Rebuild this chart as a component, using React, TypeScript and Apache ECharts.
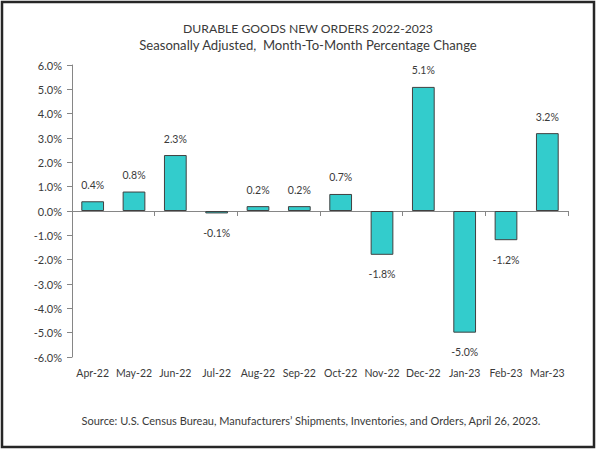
import React, { useEffect, useRef } from "react";
import * as echarts from "echarts";

const categories = ["Apr-22", "May-22", "Jun-22", "Jul-22", "Aug-22", "Sep-22", "Oct-22", "Nov-22", "Dec-22", "Jan-23", "Feb-23", "Mar-23"];
const changes = [0.4, 0.8, 2.3, -0.1, 0.2, 0.2, 0.7, -1.8, 5.1, -5.0, -1.2, 3.2];
const titleText = "DURABLE GOODS NEW ORDERS 2022-2023";
const subtitleText = "Seasonally Adjusted,  Month-To-Month Percentage Change";
const sourceText = "Source: U.S. Census Bureau, Manufacturers\u2019 Shipments, Inventories, and Orders, April 26, 2023.";

const FONT = "Lato, 'Liberation Sans', sans-serif";
const TXT = "#3a3a3a";

export default function App() {
  const ref = useRef<HTMLDivElement>(null);
  useEffect(() => {
    if (!ref.current) return;
    const chart = echarts.init(ref.current, undefined, { renderer: "svg" });
    const data = changes.map((v) => ({
      value: v,
      label: {
        position: v >= 0 ? "top" : "bottom",
        distance: v >= 0 ? 11 : 14,
      },
    }));
    chart.setOption({
      animation: false,
      backgroundColor: "#ffffff",
      textStyle: { fontFamily: FONT },
      grid: { left: 72, right: 32, top: 65, bottom: 94, containLabel: false },
      graphic: [
        {
          type: "rect",
          shape: { x: 2, y: 2, width: 592, height: 445 },
          style: { fill: "none", stroke: "#262626", lineWidth: 2.5 },
          silent: true,
        },
        {
          type: "text",
          x: 308,
          y: 28,
          style: { text: titleText, fill: TXT, font: `12.2px ${FONT}`, textAlign: "center", textVerticalAlign: "middle" },
        },
        {
          type: "text",
          x: 308,
          y: 45,
          style: { text: subtitleText, fill: TXT, font: `13.1px ${FONT}`, textAlign: "center", textVerticalAlign: "middle" },
        },
        {
          type: "text",
          x: 311,
          y: 420,
          style: { text: sourceText, fill: TXT, font: `11px ${FONT}`, textAlign: "center", textVerticalAlign: "middle" },
        },
      ],
      xAxis: [
        {
          type: "category",
          data: categories,
          axisLine: { show: true, onZero: true, lineStyle: { color: "#868686", width: 1 } },
          axisTick: { show: true, length: 5, alignWithLabel: false, lineStyle: { color: "#868686" } },
          axisLabel: { show: false },
          splitLine: { show: false },
        },
        {
          type: "category",
          data: categories,
          position: "bottom",
          axisLine: { show: false, onZero: false },
          axisTick: { show: false },
          axisLabel: { show: true, color: TXT, fontSize: 10.5, fontFamily: FONT, margin: 10, interval: 0 },
          splitLine: { show: false },
        },
      ],
      yAxis: {
        type: "value",
        min: -6,
        max: 6,
        interval: 1,
        axisLine: { show: true, lineStyle: { color: "#868686", width: 1 } },
        axisTick: { show: true, length: 5, lineStyle: { color: "#868686" } },
        axisLabel: {
          color: TXT,
          fontSize: 11,
          fontFamily: FONT,
          margin: 10,
          formatter: (v: number) => v.toFixed(1) + "%",
        },
        splitLine: { show: false },
      },
      series: [
        {
          type: "bar",
          xAxisIndex: 0,
          data,
          barWidth: "55%",
          itemStyle: { color: "#33CCCC", borderColor: "#404040", borderWidth: 1 },
          label: {
            show: true,
            color: TXT,
            fontSize: 10.5,
            fontFamily: FONT,
            formatter: (p: any) => Number(p.value).toFixed(1) + "%",
          },
        },
      ],
    });
    return () => chart.dispose();
  }, []);
  return <div ref={ref} style={{ position: "fixed", left: 0, top: 0, width: 600, height: 451 }} />;
}
